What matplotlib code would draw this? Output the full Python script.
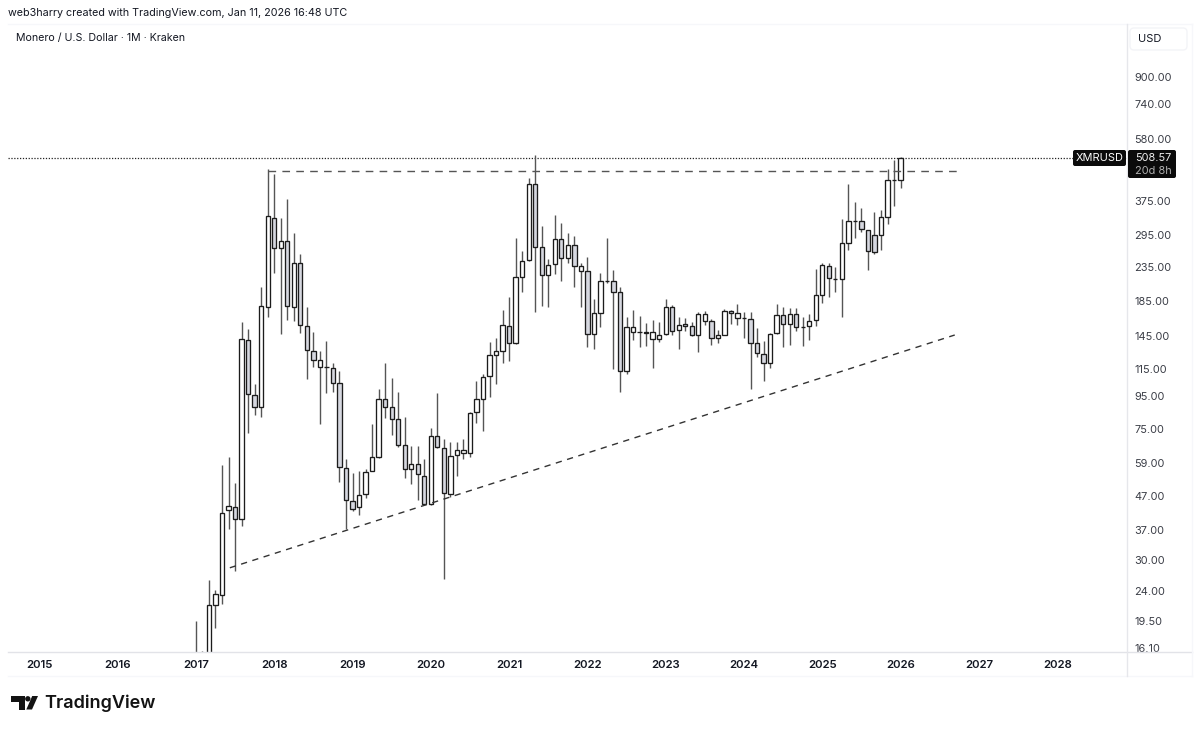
import numpy as np
import matplotlib
matplotlib.use("Agg")
import matplotlib.pyplot as plt
from matplotlib.lines import Line2D
from matplotlib.patches import FancyBboxPatch, Circle, Polygon
from matplotlib.ticker import NullLocator, FixedLocator, FixedFormatter
from matplotlib.transforms import Affine2D

W, H = 1200, 730
FONT = ["Inter", "Liberation Sans", "DejaVu Sans"]
plt.rcParams["font.family"] = FONT

# Monthly candles, Jan 2017 .. Jan 2026 (one row per year)
opens = [
    14.5, 15.2, 15.0, 21.7, 23.3, 42.4, 43.4, 40.0, 140.8, 95.6, 87.8, 177.2,
    333, 269.6, 283, 177.6, 241.7, 155.7, 130.6, 116, 116, 115.6, 104, 57.1,
    45.2, 43.3, 47.5, 56, 61.9, 93.1, 88, 80.7, 67, 56.9, 58.9, 54.2,
    44.3, 71.8, 65.9, 47.6, 62.7, 63.5, 63.6, 84.7, 93.1, 108.9, 127, 130.6,
    155.8, 137.6, 220, 246.7, 421.5, 271.5, 223, 239.7, 286, 250.3, 275, 228.8,
    228.4, 146.6, 170, 212.6, 213.2, 197.6, 113, 149, 148.5, 148.7, 142.2, 142,
    146.5, 178, 150.7, 157.5, 155, 145.8, 160.9, 161.2, 142.8, 146.2, 172.5, 164.5,
    164.5, 163, 138, 127.8, 119.5, 148.2, 168, 157.5, 169, 154.5, 155, 162,
    193.4, 237.6, 217, 215.8, 279.5, 325, 324.6, 305.3, 294.8, 295, 335, 434.2,
    434.2,
]
highs = [
    19.5, 15.7, 26, 24.2, 58.4, 61.6, 51.5, 160, 152, 103.3, 204.8, 468,
    452, 331.6, 379, 298.5, 258.8, 177.2, 149.1, 130.2, 140.1, 119.6, 113.1, 60.9,
    55.3, 56, 56.8, 77.7, 99.5, 120, 107.5, 97.4, 82, 66.5, 66.5, 60.8,
    75.6, 96.8, 70, 68.4, 68.4, 70.1, 84.6, 105.7, 110.7, 139, 143.2, 173.8,
    190, 288, 263.2, 440, 518, 315, 249, 339.5, 321.4, 298.5, 293.5, 242.7,
    253, 187.4, 225, 289.4, 230, 203.9, 165.8, 173.8, 166.5, 158.2, 162, 159.6,
    187.4, 180, 165.8, 163.9, 159.3, 171.6, 172.6, 163, 151, 174.5, 173.8, 181,
    171.6, 171, 152.9, 139.8, 147.6, 182, 177.2, 175.8, 175.8, 165.8, 169, 232,
    242.7, 242.7, 235, 329, 421.5, 371, 357, 305.8, 347.4, 351.5, 469, 499.8,
    512,
]
lows = [
    13.5, 14, 14.5, 18.5, 22, 37.3, 27.6, 38, 73.3, 83, 82, 165.8,
    225, 147.3, 162, 161.2, 148, 106.7, 116, 77.9, 96.8, 97.8, 51.6, 37.2,
    42.3, 41.1, 46.3, 55.8, 61.5, 81, 72.1, 66.1, 53.4, 51, 45.6, 44,
    44, 65.9, 26.2, 46.7, 54, 60.8, 61.6, 78.6, 74.1, 94.2, 103.3, 119.5,
    121.7, 137, 197.6, 246, 171.6, 179, 178, 224, 213, 242.7, 203.9, 177.2,
    134.3, 132.4, 154, 211, 114.4, 97.4, 110.8, 140.8, 134.3, 135.3, 115.8, 138.5,
    146, 145.8, 132.1, 149.9, 145, 129.6, 156.5, 136, 137.6, 145.5, 157.2, 156.5,
    143, 99.5, 125.2, 105.5, 115.3, 147.3, 134.3, 136, 150.2, 135.3, 140.8, 155.7,
    183, 191, 197, 165.8, 265.2, 289, 301, 230.4, 258, 265.2, 318, 361,
    411,
]
closes = [
    15.2, 15.0, 21.7, 23.6, 41.6, 43.6, 40.0, 142, 96.1, 88, 178.9, 337,
    269.6, 283, 178.9, 241.7, 156.2, 131.2, 122.6, 122, 116.5, 104, 57.6, 45.6,
    42.9, 47.4, 55.7, 61.6, 92.9, 87.9, 80.8, 67.2, 56.8, 58.8, 54.7, 44.3,
    71.8, 66.1, 48, 62.1, 65, 64.7, 84.4, 92.9, 108.2, 126.7, 130, 156.2,
    138.2, 218.9, 246, 421.5, 271.5, 223, 239, 286, 250.8, 274.5, 237.6, 237.6,
    147.3, 170, 212.6, 213, 198, 113, 154.5, 154.5, 148.7, 148.2, 148.5, 146.2,
    177.2, 150.2, 156.7, 155.3, 145.8, 169.4, 168.9, 143, 146.2, 172.5, 170, 170,
    164, 138, 128.1, 119.5, 147.3, 168, 157.5, 169, 154.5, 154.2, 161, 193,
    238, 218, 216.7, 279, 324.6, 325.3, 306.8, 262.8, 261.6, 334.5, 434.2, 434.9,
    508.57,
]

price_ticks = [16.10, 19.50, 24.00, 30.00, 37.00, 47.00, 59.00, 75.00, 95.00, 115.00,
               145.00, 185.00, 235.00, 295.00, 375.00, 580.00, 740.00, 900.00]
year_labels = ["2015", "2016", "2017", "2018", "2019", "2020", "2021", "2022",
               "2023", "2024", "2025", "2026", "2027", "2028"]
year_months = [-24, -12, 0, 12, 24, 36, 48, 60, 72, 84, 96, 108, 120, 132]  # months from Jan 2017

last_price = 508.57
resistance_months = [11, 117]
resistance_prices = [462.6, 462.6]
support_months = [5.2, 116.3]
support_prices = [28.3, 145.8]

months = np.arange(len(closes))
o, h, l, c = map(np.array, (opens, highs, lows, closes))

fig = plt.figure(figsize=(W / 100, H / 100), dpi=100, facecolor="white")
pix = Affine2D().scale(1 / W, 1 / H) + fig.transFigure


def px_rect(x0, y0, x1, y1):
    return [x0 / W, 1 - y1 / H, (x1 - x0) / W, (y1 - y0) / H]


ax = fig.add_axes(px_rect(8, 24, 1127, 652))
ax.set_yscale("log")
ax.set_xlim(-28.8, 142.7)
ax.set_ylim(15.64, 1303)
for s in ax.spines.values():
    s.set_visible(False)

# price axis and time axis
ax.yaxis.tick_right()
ax.yaxis.set_major_locator(FixedLocator(price_ticks))
ax.yaxis.set_major_formatter(FixedFormatter([f"{p:.2f}" for p in price_ticks]))
ax.yaxis.set_minor_locator(NullLocator())
ax.tick_params(axis="y", length=0, pad=5.3, labelsize=7.9, labelcolor="#3a3d46")
ax.set_xticks(year_months, year_labels)
ax.tick_params(axis="x", length=0, pad=5.5, labelsize=8.2, labelcolor="#131722")
for t in ax.get_xticklabels():
    t.set_fontweight("semibold")

# candles
up = c >= o
ax.vlines(months, l, h, color="#555555", lw=1.0, zorder=2)
body_lo = np.minimum(o, c)
body_hi = np.maximum(o, c)
ax.bar(months, body_hi - body_lo, bottom=body_lo, width=0.66,
       color=np.where(up, "#ffffff", "#d6d8e0"), edgecolor="#1c1c1c",
       linewidth=0.95, zorder=3)

# drawings
ax.plot(resistance_months, resistance_prices, color="#555555", lw=1.0,
        dashes=(5.5, 4.5), zorder=4)
ax.plot(support_months, support_prices, color="#333333", lw=1.0,
        dashes=(4.5, 4), zorder=4)
ax.axhline(last_price, color="#222222", lw=0.9, dashes=(1, 1.3), zorder=1)


# page furniture, in figure pixels
def to_fig(x, y):
    return x / W, 1 - y / H


def hline(x0, x1, y, color):
    (a, b), (cc, d) = to_fig(x0, y), to_fig(x1, y)
    fig.add_artist(Line2D([a, cc], [b, d], color=color, lw=1.0))


def vline(x, y0, y1, color):
    (a, b), (cc, d) = to_fig(x, y0), to_fig(x, y1)
    fig.add_artist(Line2D([a, cc], [b, d], color=color, lw=1.0))


hline(8, 1192, 652, "#e2e3e8")
hline(8, 1192, 676, "#f6f7fa")
hline(8, 1192, 24, "#f6f7fa")
vline(1127, 24, 676, "#e6e7eb")
vline(1192, 24, 676, "#f6f7fa")


def ftext(x, y, s, **kw):
    fx, fy = to_fig(x, y)
    kw.setdefault("va", "center")
    kw.setdefault("ha", "left")
    kw.setdefault("color", "#131722")
    return fig.text(fx, fy, s, **kw)


def box(x0, y0, x1, y1, fc, ec="none", r=2):
    p = FancyBboxPatch((x0, H - y1), x1 - x0, y1 - y0,
                       boxstyle=f"round,pad=0,rounding_size={r}",
                       fc=fc, ec=ec, lw=1.0,
                       transform=pix, zorder=5)
    fig.add_artist(p)


ftext(8, 13, "web3harry created with TradingView.com, Jan 11, 2026 16:48 UTC", fontsize=7.75)
ftext(16, 38, "Monero / U.S. Dollar · 1M · Kraken", fontsize=7.65)
box(1130, 28, 1187, 50, "white", "#f3f4f7", 4)
ftext(1138, 39, "USD", fontsize=8.0, zorder=6)

box(1073, 150, 1126, 166, "#0b0b0b")
ftext(1099.5, 158, "XMRUSD", fontsize=7.9, color="white", ha="center", zorder=6)
box(1128, 150, 1176, 178, "#0b0b0b")
ftext(1135, 158, "508.57", fontsize=7.9, color="#eeeeee", zorder=6)
ftext(1135, 171, "20d 8h", fontsize=7.9, color="#b0b0b0", zorder=6)

# TradingView logo
ink = "#131313"
fig.add_artist(Polygon([(11, H - 696), (24.7, H - 696), (24.7, H - 709.5), (18.5, H - 709.5),
                        (18.5, H - 702), (11, H - 702)], closed=True, fc=ink, ec="none",
                       transform=pix))
fig.add_artist(Circle((27.8, H - 698.8), 2.7, fc=ink, ec="none", transform=pix))
fig.add_artist(Polygon([(26.3, H - 709.5), (32.2, H - 696), (38, H - 696), (32, H - 709.5)],
                       closed=True, fc=ink, ec="none", transform=pix))
ftext(44, 703, "TradingView", fontsize=13.0, fontweight="semibold", color=ink)

fig.savefig("out.png", dpi=100, facecolor="white")
